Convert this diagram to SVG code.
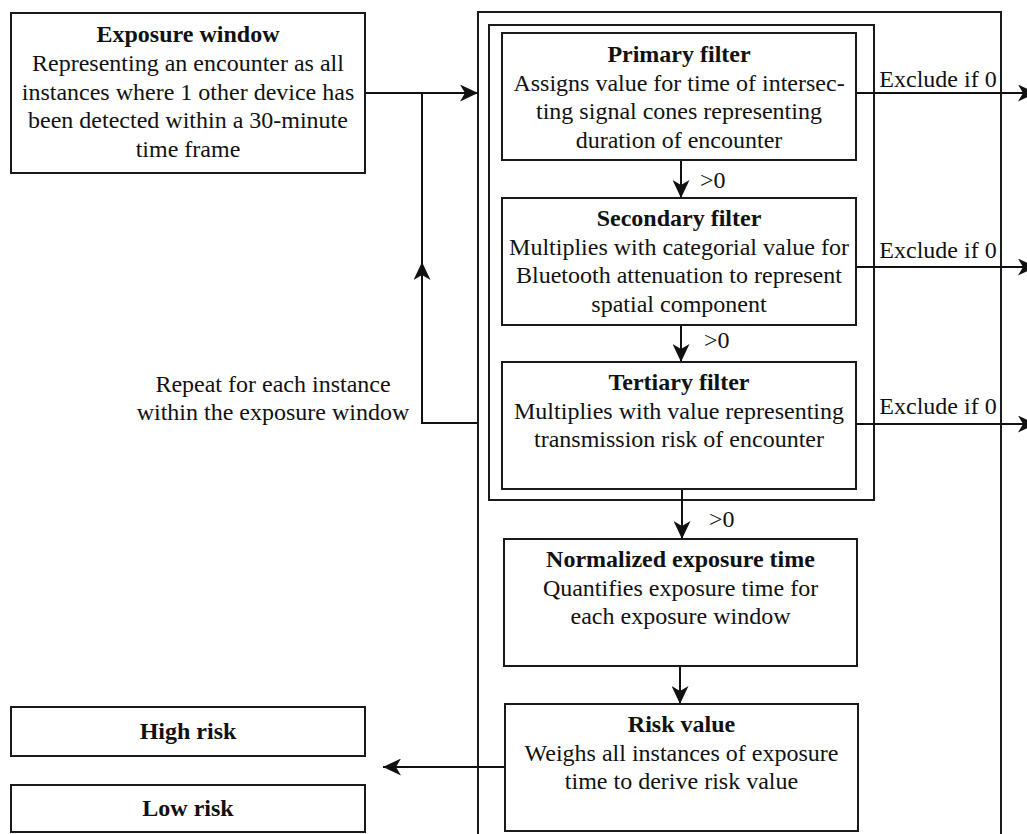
<svg xmlns="http://www.w3.org/2000/svg" width="1027" height="834" viewBox="0 0 1027 834">
<style>
.box{fill:#fff;stroke:#1a1a1a;stroke-width:2}
.frame{fill:none;stroke:#1a1a1a;stroke-width:2}
.t{font-family:"Liberation Serif","Times New Roman",serif;font-size:24px;fill:#111;text-anchor:middle}
.b{font-weight:bold}
.l{font-family:"Liberation Serif","Times New Roman",serif;font-size:24px;fill:#111}
.c{fill:none;stroke:#111;stroke-width:2}
</style>
<defs>
<marker id="arr" markerUnits="userSpaceOnUse" viewBox="0 0 18 17" refX="18" refY="8.5" markerWidth="18" markerHeight="17" orient="auto">
<path d="M0,0 L18,8.5 L0,17 L5,8.5 Z" fill="#111"/>
</marker>
</defs>
<rect width="1027" height="834" fill="#fff"/>

<g id="outer-frame"><rect class="frame" x="478" y="12" width="523" height="840"/></g>
<g id="filter-frame"><rect class="frame" x="489" y="25" width="385" height="475"/></g>

<g id="connectors">
<path class="c" d="M365,93 H478" marker-end="url(#arr)"/>
<path class="c" d="M478,423 H422 V262" marker-end="url(#arr)"/>
<path class="c" d="M422,263 V93"/>
<path class="c" d="M681,160 V198" marker-end="url(#arr)"/>
<path class="c" d="M681,325 V362" marker-end="url(#arr)"/>
<path class="c" d="M682,489 V539" marker-end="url(#arr)"/>
<path class="c" d="M680,666 V704" marker-end="url(#arr)"/>
<path class="c" d="M505,767 H383" marker-end="url(#arr)"/>
<path class="c" d="M856,93 H1036" marker-end="url(#arr)"/>
<path class="c" d="M856,267 H1036" marker-end="url(#arr)"/>
<path class="c" d="M856,424 H1036" marker-end="url(#arr)"/>
<text class="l" x="700" y="188">&gt;0</text>
<text class="l" x="704" y="348">&gt;0</text>
<text class="l" x="709" y="527">&gt;0</text>
<text class="t" x="938" y="87">Exclude if 0</text>
<text class="t" x="938" y="258">Exclude if 0</text>
<text class="t" x="938" y="414">Exclude if 0</text>
<text class="t" x="273" y="392">Repeat for each instance</text>
<text class="t" x="273" y="420">within the exposure window</text>
</g>

<g id="exposure-window">
<rect class="box" x="11" y="13" width="354" height="160"/>
<text class="t b" x="188" y="42">Exposure window</text>
<text class="t" x="188" y="71">Representing an encounter as all</text>
<text class="t" x="188" y="99.5">instances where 1 other device has</text>
<text class="t" x="188" y="128">been detected within a 30-minute</text>
<text class="t" x="188" y="156.5">time frame</text>
</g>

<g id="primary-filter">
<rect class="box" x="502" y="33" width="354" height="127"/>
<text class="t b" x="679" y="62">Primary filter</text>
<text class="t" x="679" y="90.5">Assigns value for time of intersec-</text>
<text class="t" x="679" y="119">ting signal cones representing</text>
<text class="t" x="679" y="147.5">duration of encounter</text>
</g>

<g id="secondary-filter">
<rect class="box" x="502" y="198" width="354" height="127"/>
<text class="t b" x="679" y="226">Secondary filter</text>
<text class="t" x="679" y="254.5">Multiplies with categorial value for</text>
<text class="t" x="679" y="283">Bluetooth attenuation to represent</text>
<text class="t" x="679" y="311.5">spatial component</text>
</g>

<g id="tertiary-filter">
<rect class="box" x="502" y="362" width="354" height="127"/>
<text class="t b" x="679" y="390">Tertiary filter</text>
<text class="t" x="679" y="418.5">Multiplies with value representing</text>
<text class="t" x="679" y="447">transmission risk of encounter</text>
</g>

<g id="normalized-exposure-time">
<rect class="box" x="504" y="539" width="353" height="127"/>
<text class="t b" x="680.5" y="567">Normalized exposure time</text>
<text class="t" x="680.5" y="595.5">Quantifies exposure time for</text>
<text class="t" x="680.5" y="624">each exposure window</text>
</g>

<g id="risk-value">
<rect class="box" x="505" y="704" width="353" height="127"/>
<text class="t b" x="681.5" y="732">Risk value</text>
<text class="t" x="681.5" y="760.5">Weighs all instances of exposure</text>
<text class="t" x="681.5" y="789">time to derive risk value</text>
</g>

<g id="high-risk">
<rect class="box" x="11" y="707" width="354" height="49"/>
<text class="t b" x="188" y="739">High risk</text>
</g>

<g id="low-risk">
<rect class="box" x="11" y="785" width="354" height="47"/>
<text class="t b" x="188" y="816">Low risk</text>
</g>
</svg>
